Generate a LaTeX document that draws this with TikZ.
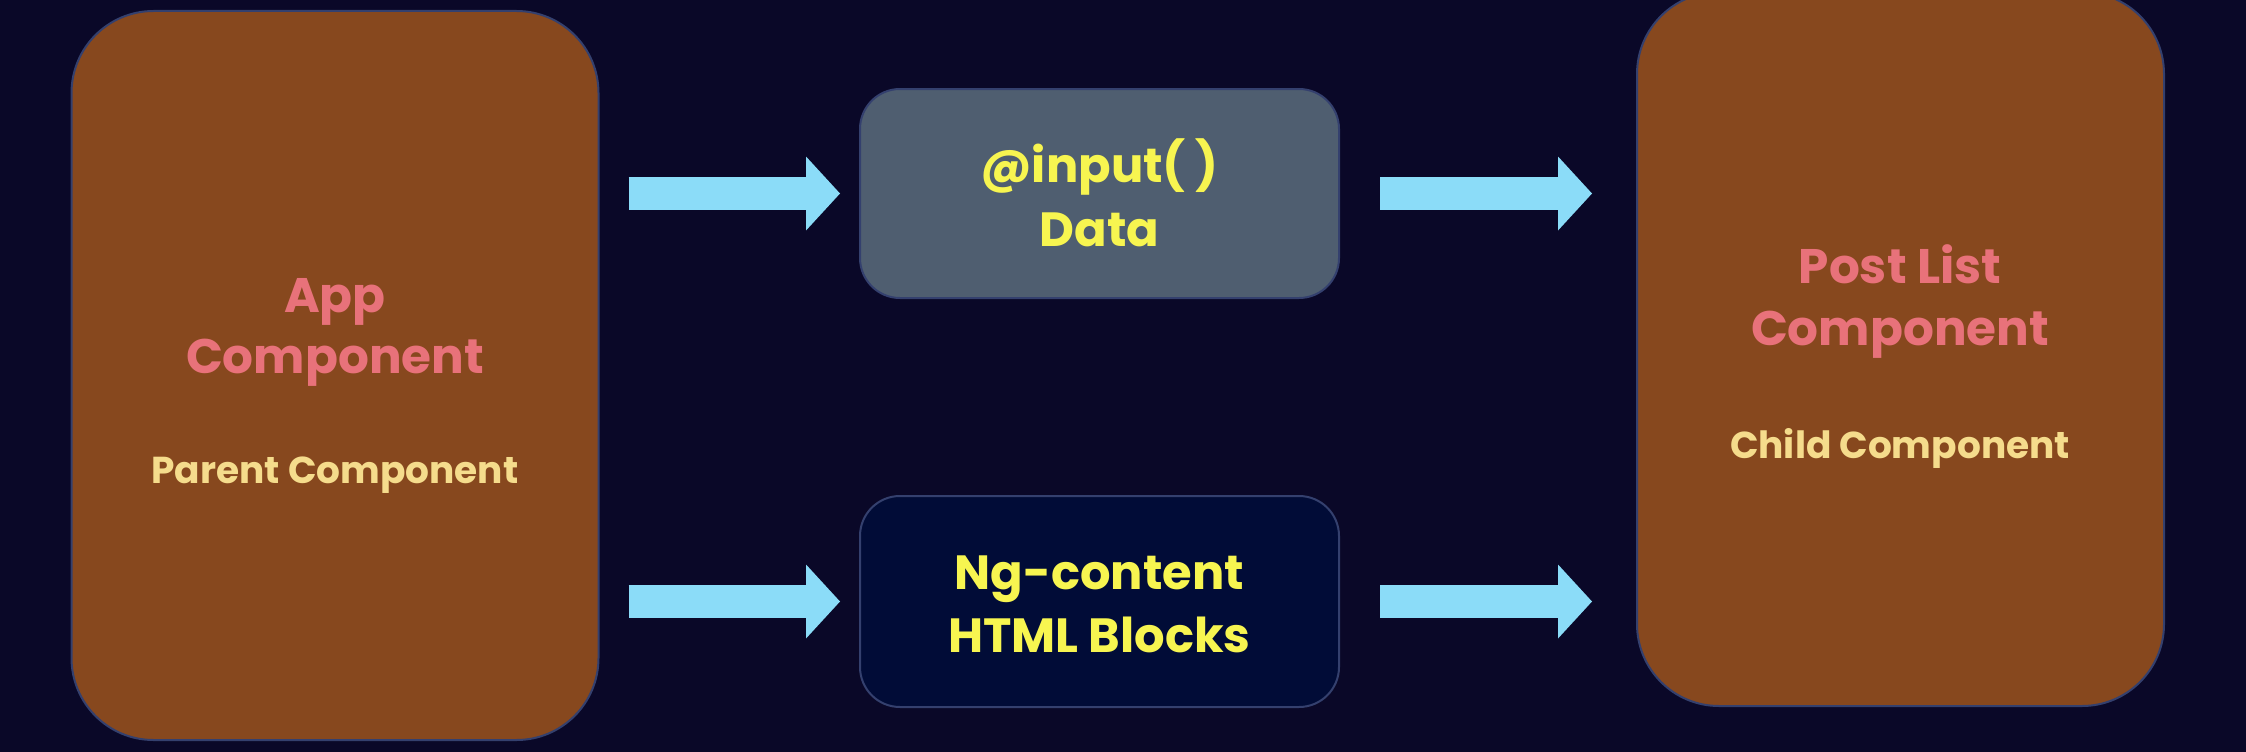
\documentclass[tikz,border=0pt]{standalone}
\usepackage{fontspec}
\setmainfont{Poppins}
\usetikzlibrary{arrows.meta}
\definecolor{bgc}{HTML}{0A0828}
\definecolor{brownc}{HTML}{87481E}
\definecolor{grayc}{HTML}{4F5E70}
\definecolor{darkc}{HTML}{010C37}
\definecolor{edgec}{HTML}{34406E}
\definecolor{arrowc}{HTML}{8BDCF8}
\definecolor{pinkc}{HTML}{E8727A}
\definecolor{creamc}{HTML}{F5DC8C}
\definecolor{yellowc}{HTML}{F7F550}
\tikzset{
  bigbox/.style={draw=edgec, line width=2pt, fill=brownc, rounded corners=82pt, minimum width=527pt, inner sep=0pt},
  midbox/.style={draw=edgec, line width=2pt, rounded corners=40pt, minimum width=479pt, inner sep=0pt},
  titletext/.style={text=pinkc, font=\fontsize{48.5}{58}\selectfont\bfseries, anchor=base, inner sep=0pt},
  subtext/.style={text=creamc, font=\fontsize{37.5}{44}\selectfont\bfseries, anchor=base, inner sep=0pt},
  midtext/.style={text=yellowc, font=\fontsize{48}{58}\selectfont\bfseries, anchor=base, inner sep=0pt},
  fatarrow/.style={draw=arrowc, line width=33pt, -{Triangle[length=34pt, width=74pt, line width=0pt]}},
}
\begin{document}
\begin{tikzpicture}[x=1pt, y=-1pt]
\useasboundingbox[fill=bgc] (0,0) rectangle (2246,752);
% boxes
\node[bigbox, minimum height=729pt] (app) at (335,375.5) {};
\node[bigbox, minimum height=714pt] (post) at (1900.5,349) {};
\node[midbox, fill=grayc, minimum height=209pt] (inp) at (1099.5,193.5) {};
\node[midbox, fill=darkc, minimum height=211pt] (ng) at (1099.5,601.5) {};
% texts
\node[titletext] (appA) at (335,312) {App};
\node[titletext] (appB) at (335,373) {Component};
\node[subtext] (appC) at (335,483) {Parent Component};
\node[titletext] (postA) at (1900,283) {Post List};
\node[titletext] (postB) at (1900,345) {Component};
\node[subtext] (postC) at (1900,458) {Child Component};
\node[midtext] (inpA) at (1099.5,182) {@input( )};
\node[midtext] (inpB) at (1099.5,246) {Data};
\node[midtext] (ngA) at (1099.5,589) {Ng-content};
\node[midtext] (ngB) at (1099.5,652) {HTML Blocks};
% arrows
\draw[fatarrow, shorten <=29pt, shorten >=19pt] (app.east |- inp) -- (inp.west);
\draw[fatarrow, shorten <=29pt, shorten >=19pt] (app.east |- ng) -- (ng.west);
\draw[fatarrow, shorten <=40pt, shorten >=44pt] (inp.east) -- (post.west |- inp);
\draw[fatarrow, shorten <=40pt, shorten >=44pt] (ng.east) -- (post.west |- ng);
\end{tikzpicture}
\end{document}
